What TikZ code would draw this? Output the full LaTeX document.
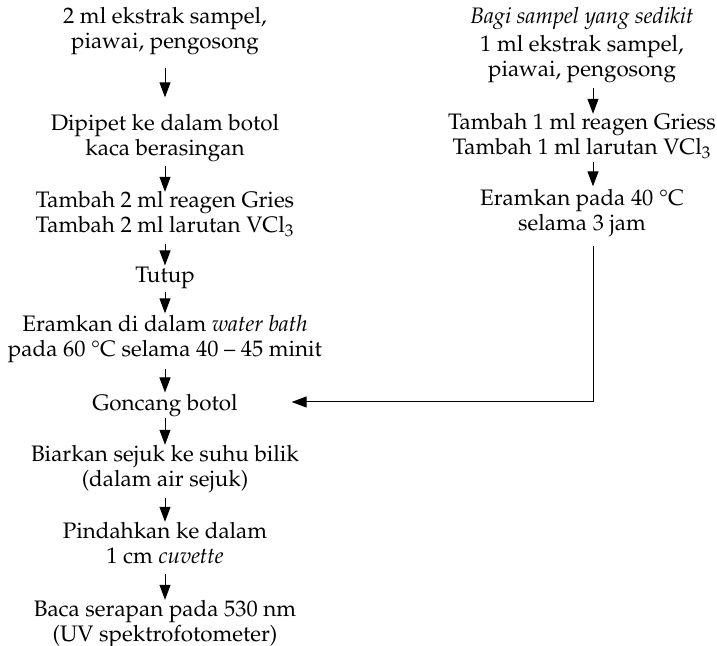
\documentclass[tikz,border=0pt]{standalone}
\usepackage[T1]{fontenc}
\usepackage{mathpazo}
\usepackage{textcomp}
\usepackage{tikz}
\usetikzlibrary{arrows.meta}

\begin{document}
\begin{tikzpicture}[x=0.5pt, y=-0.5pt]
      \tikzstyle{stage} = [align=center, anchor=base, inner sep=0pt, outer sep=0pt,
        font=\fontsize{11.2pt}{12.5pt}\selectfont,
        execute at begin node=\strut, execute at end node=\strut]
      \tikzstyle{flow} = [-{Triangle[length=7.5pt, width=5.5pt]}, line width=0.5pt]

      \useasboundingbox (0,0) rectangle (717,646);

      % left column
      \node[stage] (l1) at (165,49) {2 ml ekstrak sampel,\\piawai, pengosong};
      \node[stage] (l2) at (165,156) {Dipipet ke dalam botol\\kaca berasingan};
      \node[stage] (l3) at (165,233) {Tambah 2 ml reagen Gries\\Tambah 2 ml larutan VCl$_3$};
      \node[stage] (l4) at (165,283) {Tutup};
      \node[stage] (l5) at (165,357) {Eramkan di dalam \textit{water bath}\\pada 60 \textdegree C selama 40 -- 45 minit};
      \node[stage] (l6) at (165,410) {Goncang botol};
      \node[stage] (l7) at (165,486) {Biarkan sejuk ke suhu bilik\\(dalam air sejuk)};
      \node[stage] (l8) at (165,563) {Pindahkan ke dalam\\1 cm \textit{cuvette}};
      \node[stage] (l9) at (165,641) {Baca serapan pada 530 nm\\(UV spektrofotometer)};

      % right column
      \node[stage] (r1) at (582,77) {\textit{Bagi sampel yang sedikit}\\[1.5pt]1 ml ekstrak sampel,\\piawai, pengosong};
      \node[stage] (r2) at (582,155) {Tambah 1 ml reagen Griess\\Tambah 1 ml larutan VCl$_3$};
      \node[stage] (r3) at (582,231) {Eramkan pada 40 \textdegree C\\selama 3 jam};

      \draw[flow, shorten <=5.75pt, shorten >=8.75pt] (l1.south) -- (l2.north);
      \draw[flow, shorten <=1.5pt] (l2.south) -- (l3.north);
      \draw[flow, shorten <=1.75pt] (l3.south) -- (l4.north);
      \draw[flow, shorten <=0.75pt, shorten >=1.25pt] (l4.south) -- (l5.north);
      \draw[flow, shorten <=2.25pt] (l5.south) -- (l6.north);
      \draw[flow, shorten <=0.25pt] (l6.south) -- (l7.north);
      \draw[flow, shorten <=2.25pt] (l7.south) -- (l8.north);
      \draw[flow, shorten <=1.75pt] (l8.south) -- (l9.north);

      \draw[flow, shorten <=2pt] ([xshift=5.5pt]r1.south) -- ([xshift=5.5pt]r2.north);
      \draw[flow, shorten >=1.75pt] ([xshift=5.5pt]r2.south) -- ([xshift=5.5pt]r3.north);
      \draw[flow, shorten <=4pt, shorten >=27pt] ([xshift=5.5pt]r3.south) |- ([yshift=1.5pt]l6.east);
    \end{tikzpicture}
\end{document}
